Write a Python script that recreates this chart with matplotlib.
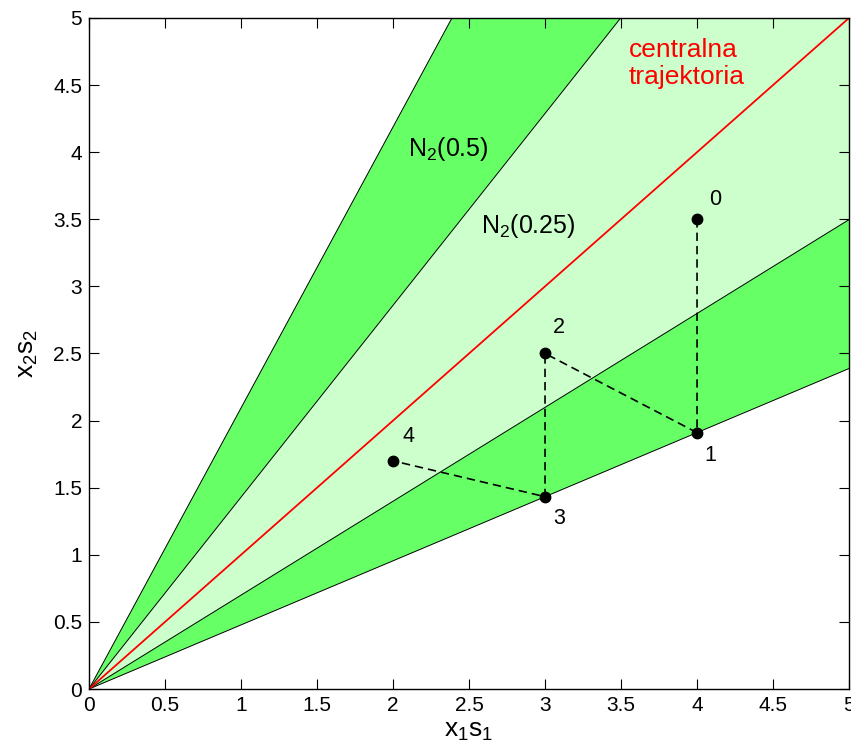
import numpy as np
import matplotlib.pyplot as plt

plt.rcParams['font.family'] = ['Liberation Sans', 'DejaVu Sans']
plt.rcParams['mathtext.fontset'] = 'custom'
plt.rcParams['mathtext.rm'] = 'Liberation Sans'
plt.rcParams['mathtext.it'] = 'Liberation Sans'

# boundary slopes (x2s2 / x1s1) of the neighbourhoods
slopes_05 = [2.094, 0.4776]    # N2(0.5): upper, lower
slopes_025 = [1.4295, 0.6995]  # N2(0.25): upper, lower

# iterates
pt_x = [4.0, 4.0, 3.0, 3.0, 2.0]
pt_y = [3.5, 1.91, 2.5, 1.433, 1.7]
pt_labels = ['0', '1', '2', '3', '4']
lab_x = [4.12, 4.09, 3.09, 3.09, 2.10]
lab_y = [3.65, 1.74, 2.69, 1.27, 1.88]

dark = (0.4, 1.0, 0.4)
light = (0.8, 1.0, 0.8)

fig = plt.figure(figsize=(8.51, 7.55), dpi=100)
ax = fig.add_axes([0.1046, 0.0874, 0.8931, 0.8888])

x = np.linspace(0, 5, 200)
ax.fill_between(x, slopes_05[1] * x, slopes_05[0] * x, color=dark, lw=0)
ax.fill_between(x, slopes_025[1] * x, slopes_025[0] * x, color=light, lw=0)
for s in slopes_05 + slopes_025:
    ax.plot(x, s * x, color='black', lw=0.7)
ax.plot(x, x, color='red', lw=1.3)

ax.plot(pt_x, pt_y, 'k--', lw=1.2, dashes=(5, 3))
ax.plot(pt_x, pt_y, 'ko', ms=7.5)
for lx, ly, t in zip(lab_x, lab_y, pt_labels):
    ax.text(lx, ly, t, fontsize=15.5, ha='center', va='center')

ax.text(2.10, 4.02, r'$\mathregular{N_2(0.5)}$', fontsize=18, ha='left', va='center')
ax.text(2.58, 3.45, r'$\mathregular{N_2(0.25)}$', fontsize=18, ha='left', va='center')
ax.text(3.55, 4.66, 'centralna\ntrajektoria', fontsize=19, color='red',
        ha='left', va='center', linespacing=1.2)

ax.set_xlim(0, 5)
ax.set_ylim(0, 5)
ticks = np.arange(0, 5.01, 0.5)
ax.set_xticks(ticks)
ax.set_yticks(ticks)
ax.set_xticklabels([f'{t:g}' for t in ticks])
ax.set_yticklabels([f'{t:g}' for t in ticks])
ax.tick_params(direction='in', top=True, right=True, labelsize=15, length=7, width=0.8, pad=5)
for sp in ax.spines.values():
    sp.set_linewidth(1.0)

ax.set_xlabel(r'$\mathregular{x_1s_1}$', fontsize=19, labelpad=3)
ax.set_ylabel(r'$\mathregular{x_2s_2}$', fontsize=19, labelpad=9)

fig.savefig('out.png', dpi=100)
